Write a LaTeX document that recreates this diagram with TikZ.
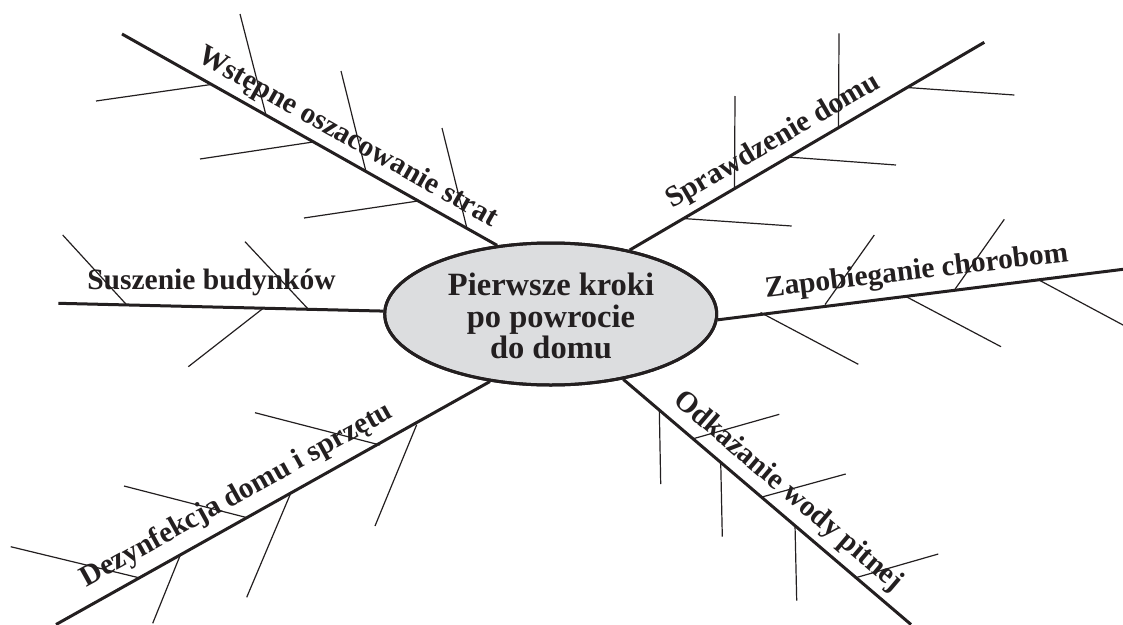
\documentclass[tikz,border=0pt]{standalone}
\usepackage{fontspec}
\setmainfont{Liberation Serif}
\usetikzlibrary{shapes.geometric}
\definecolor{ink}{RGB}{35,31,32}
\definecolor{hubfill}{RGB}{220,221,223}
\begin{document}
\begin{tikzpicture}[x=1pt,y=-1pt,
  mainline/.style={draw=ink,line width=3pt},
  subline/.style={draw=ink,line width=1.2pt},
  hub/.style={ellipse,draw=ink,line width=3pt,minimum width=332pt,minimum height=142pt,inner sep=0pt},
  hubtext/.style={align=center,inner sep=0pt,text=ink,font=\bfseries\fontsize{32.5}{31.5}\selectfont},
  lbl/.style={anchor=base,inner sep=0pt,text=ink,font=\bfseries\fontsize{29.5}{30}\selectfont}]
\useasboundingbox (0,0) rectangle (1123,624);

% free ends of the main branches
\coordinate (wEnd) at (122,34);
\coordinate (sEnd) at (58.3,303.3);
\coordinate (dEnd) at (56,624.5);
\coordinate (pEnd) at (984.3,42.3);
\coordinate (zEnd) at (1123,269.3);
\coordinate (oEnd) at (911,624.5);

% sub-lines
% Wstepne oszacowanie strat
\draw[subline] (240,14) -- (266,115.2);
\draw[subline] (341,71) -- (366,171.7);
\draw[subline] (442,128) -- (467,228.6);
\draw[subline] (96,101) -- (211,84.5);
\draw[subline] (200,159) -- (313,142);
\draw[subline] (304,218) -- (418,201);
% Suszenie budynkow
\draw[subline] (62.7,235) -- (126.7,304.9);
\draw[subline] (245,241.7) -- (308.3,309.2);
\draw[subline] (263.3,308.2) -- (188.3,366.7);
% Dezynfekcja domu i sprzetu
\draw[subline] (10.7,546.7) -- (140,578);
\draw[subline] (124,486) -- (248.3,518);
\draw[subline] (255,412.7) -- (380,445);
\draw[subline] (180,555.8) -- (152.7,623.3);
\draw[subline] (290,494.9) -- (246.7,597.3);
\draw[subline] (416.7,424.7) -- (375,526);
% Sprawdzenie domu
\draw[subline] (735,96) -- (734.5,188);
\draw[subline] (839,33.3) -- (838.5,127.5);
\draw[subline] (683,218.5) -- (791.7,226);
\draw[subline] (788,157) -- (896,165);
\draw[subline] (907,87.5) -- (1014.3,95);
% Zapobieganie chorobom
\draw[subline] (825,304.6) -- (874.3,235);
\draw[subline] (955,289.2) -- (1004.3,219.3);
\draw[subline] (760.5,312.5) -- (858.3,364.3);
\draw[subline] (904,295.5) -- (1001,346.7);
\draw[subline] (1038,279.5) -- (1123,325);
% Odkazanie wody pitnej
\draw[subline] (659.3,409.2) -- (660.7,484);
\draw[subline] (720.7,461.6) -- (722.3,536.7);
\draw[subline] (795,525) -- (796.7,600.7);
\draw[subline] (694,438.5) -- (779.3,414.3);
\draw[subline] (762,497) -- (845.7,474);
\draw[subline] (856.5,577.5) -- (938.3,554);

% central ellipse
\node[hub,fill=hubfill] (c) at (550.7,314) {};

% main branches from the hub
\draw[mainline] (c.128.4) -- (wEnd);
\draw[mainline] (c.179) -- (sEnd);
\draw[mainline] (c.228.7) -- (dEnd);
\draw[mainline] (c.39.2) -- (pEnd);
\draw[mainline] (c.358.9) -- (zEnd);
\draw[mainline] (c.318.5) -- (oEnd);
\node[hub] (cRing) at (c) {};
\node[hubtext] (cText) at (551,316) {Pierwsze kroki\\po powrocie\\do domu};

% branch labels
\node[lbl,rotate=-29.4] (wLbl) at (344,144) {Wstępne oszacowanie strat};
\node[lbl] (sLbl) at (211.5,289) {Suszenie budynków};
\node[lbl,rotate=29] (dLbl) at (240.5,502) {Dezynfekcja domu i sprzętu};
\node[lbl,rotate=30.3] (pLbl) at (777,148) {Sprawdzenie domu};
\node[lbl,rotate=6.76] (zLbl) at (917.5,279.2) {Zapobieganie chorobom};
\node[lbl,rotate=-40.5] (oLbl) at (783,497) {Odkażanie wody pitnej};
\end{tikzpicture}
\end{document}
